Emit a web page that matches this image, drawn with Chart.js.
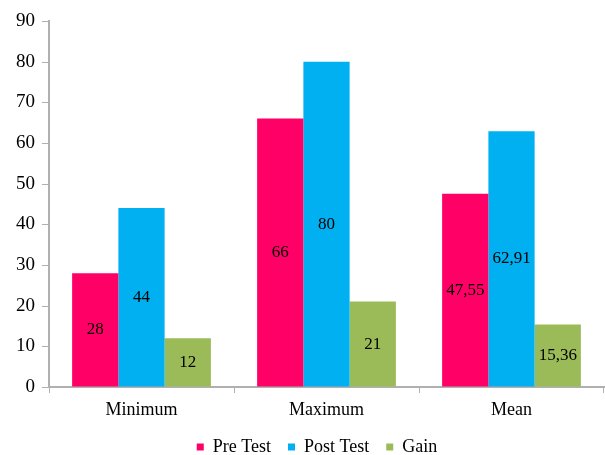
<!DOCTYPE html>
<html>
<head>
<meta charset="utf-8">
<script src="https://cdn.jsdelivr.net/npm/chart.js@4"></script>
<style>
  html, body { margin: 0; padding: 0; background: #fff; }
  #wrap { width: 605px; height: 455px; }
</style>
</head>
<body>
<div id="wrap"><canvas id="chart" width="605" height="455"></canvas></div>
<script>
// chart data
const categories = ['Minimum', 'Maximum', 'Mean'];
const preTest = [28, 66, 47.55];
const postTest = [44, 80, 62.91];
const gain = [12, 21, 15.36];
const yTicks = [0, 10, 20, 30, 40, 50, 60, 70, 80, 90];

const serif = '"Liberation Serif", "Times New Roman", serif';
const axisGrey = '#B0B0B0';

// draws the value in the middle of each bar, comma as decimal mark
const barLabels = {
    id: 'barLabels',
    afterDatasetsDraw(chart) {
        const ctx = chart.ctx;
        ctx.save();
        ctx.font = '17px ' + serif;
        ctx.fillStyle = '#000';
        ctx.textAlign = 'center';
        ctx.textBaseline = 'middle';
        chart.data.datasets.forEach((ds, i) => {
            chart.getDatasetMeta(i).data.forEach((bar, j) => {
                const txt = String(ds.data[j]).replace('.', ',');
                const mid = (bar.y + bar.base) / 2;
                ctx.fillText(txt, bar.x, mid);
            });
        });
        ctx.restore();
    }
};

// small outside tick marks on both axes, legend nudged right like the original
const tickMarks = {
    id: 'tickMarks',
    beforeDraw(chart) {
        chart.legend.left = 30;
    },
    afterDraw(chart) {
        const ctx = chart.ctx;
        const xs = chart.scales.x, ys = chart.scales.y;
        const axisX = chart.chartArea.left;
        ctx.save();
        ctx.fillStyle = axisGrey;
        yTicks.forEach(v => {
            const py = Math.round(ys.getPixelForValue(v));
            ctx.fillRect(axisX - 7, py, 7, 1);
        });
        for (let i = 0; i <= categories.length; i++) {
            let px;
            if (i === 0) px = xs.left;
            else if (i === categories.length) px = xs.right - 1;
            else px = (xs.getPixelForValue(i - 1) + xs.getPixelForValue(i)) / 2;
            ctx.fillRect(Math.round(px), xs.top, 1, 6);
        }
        ctx.restore();
    }
};

new Chart(document.getElementById('chart').getContext('2d'), {
    type: 'bar',
    data: {
        labels: categories,
        datasets: [
            { label: 'Pre Test', data: preTest, backgroundColor: '#FF0066' },
            { label: 'Post Test', data: postTest, backgroundColor: '#00B0F0' },
            { label: 'Gain', data: gain, backgroundColor: '#9BBB59' }
        ]
    },
    options: {
        responsive: false,
        animation: false,
        layout: { padding: { top: 21, right: 1, left: 0, bottom: -11 } },
        datasets: { bar: { categoryPercentage: 0.75, barPercentage: 1 } },
        plugins: {
            tooltip: { enabled: false },
            legend: {
                position: 'bottom',
                labels: {
                    font: { family: serif, size: 18 },
                    color: '#000',
                    boxWidth: 7,
                    boxHeight: 7,
                    padding: 17
                }
            }
        },
        scales: {
            x: {
                grid: { display: true, drawOnChartArea: false, offset: true, tickLength: 6, color: 'rgba(0,0,0,0)' },
                border: { color: axisGrey, width: 2 },
                ticks: { font: { family: serif, size: 18 }, color: '#000', padding: 6 },
                afterFit: s => { s.height = 34; }
            },
            y: {
                min: yTicks[0],
                max: yTicks[yTicks.length - 1],
                grid: { display: true, drawOnChartArea: false, tickLength: 6, color: 'rgba(0,0,0,0)' },
                border: { color: axisGrey, width: 2 },
                ticks: {
                    stepSize: yTicks[1] - yTicks[0],
                    font: { family: serif, size: 19 },
                    color: '#000',
                    padding: 8
                },
                afterFit: s => { s.width = 49; }
            }
        }
    },
    plugins: [barLabels, tickMarks]
});
</script>
</body>
</html>
